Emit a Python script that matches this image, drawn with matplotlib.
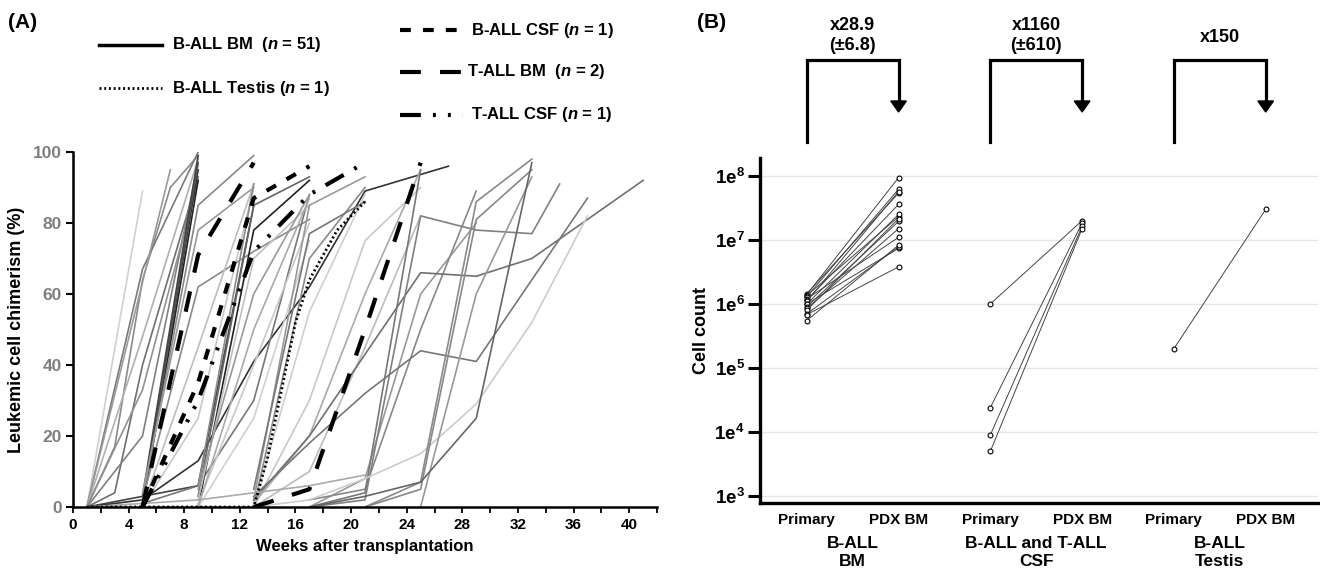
import math
import matplotlib
matplotlib.use('Agg')
import matplotlib.pyplot as plt
import matplotlib.transforms as mtransforms
from matplotlib.lines import Line2D
from matplotlib.patches import Polygon

plt.rcParams['font.family'] = ['Liberation Sans', 'DejaVu Sans']
plt.rcParams['font.weight'] = 'bold'
plt.rcParams['mathtext.fontset'] = 'custom'
plt.rcParams['mathtext.rm'] = 'Liberation Sans:bold'
plt.rcParams['mathtext.it'] = 'Liberation Sans:bold:italic'
plt.rcParams['mathtext.bf'] = 'Liberation Sans:bold'

# ---------------- data: panel A (chimerism %, by week) ----------------
bm_weeks = [
    [1, 5], [1, 3, 5, 7, 9], [1, 5, 9], [1, 7], [1, 3, 5, 9], [1, 5, 9], [1, 5, 9], [1, 5, 9],
    [1, 5, 9, 13], [1, 5, 9], [5, 9], [5, 9], [5, 9], [5, 9, 13], [5, 9, 13], [5, 9, 13, 17],
    [5, 9, 13], [5, 9, 13], [5, 9, 13, 17, 21, 27], [5, 9, 13, 17], [9, 13, 17], [9, 13, 17],
    [9, 13, 17], [9, 13, 17], [9, 13, 17], [9, 13, 17], [9, 13], [9, 13, 17], [13, 17, 21],
    [13, 17, 21], [13, 17, 21], [13, 17, 21], [13, 17, 21, 25], [13, 17, 21, 25], [13, 17, 21, 25],
    [17, 21, 25, 29], [17, 21, 25, 29], [17, 21, 25], [13, 17, 21, 25, 29, 33, 41],
    [17, 21, 25, 29, 33, 35], [13, 17, 21, 25, 29, 33, 37], [13, 17, 21, 25, 29, 33, 37],
    [21, 25, 29, 33], [21, 25, 29, 33], [25, 29, 33], [1, 5, 9, 13, 17, 21], [17, 21, 25, 29, 33],
]
bm_values = [
    [0, 89], [0, 17, 64, 90, 99], [0, 67, 100], [0, 95], [0, 4, 40, 93], [0, 20, 97], [0, 48, 98], [0, 33, 92],
    [0, 3, 6, 85], [0, 2, 95], [0, 92], [1, 97], [3, 99], [2, 85, 99], [4, 78, 90], [2, 62, 72, 81],
    [0, 25, 90], [0, 45, 91], [2, 13, 41, 62, 89, 96], [1, 6, 30, 88], [0, 78, 92], [3, 85, 93],
    [2, 70, 85], [5, 60, 88], [1, 40, 80], [0, 25, 75], [6, 91], [0, 50, 87], [0, 70, 90],
    [2, 85, 93], [0, 55, 88], [5, 77, 86], [0, 30, 75, 90], [1, 20, 60, 95], [0, 10, 45, 82],
    [0, 8, 60, 80], [2, 5, 50, 89], [0, 4, 95], [2, 20, 43, 66, 65, 70, 92],
    [0, 2, 82, 78, 77, 91], [3, 18, 32, 44, 41, 64, 87], [0, 2, 8, 15, 29, 52, 82],
    [0, 7, 86, 98], [0, 5, 81, 95], [0, 60, 93], [0, 1, 2, 4, 6, 9], [0, 3, 7, 25, 97],
]
bm_shades = [
    '#d0d0d0', '#8a8a8a', '#7a7a7a', '#9a9a9a', '#6e6e6e', '#808080', '#b0b0b0', '#909090',
    '#444444', '#333333', '#222222', '#555555', '#444444', '#888888', '#999999', '#8a8a8a',
    '#c8c8c8', '#bdbdbd', '#333333', '#777777', '#222222', '#666666',
    '#c0c0c0', '#999999', '#c8c8c8', '#d0d0d0', '#8a8a8a', '#aaaaaa', '#8a8a8a',
    '#999999', '#cfcfcf', '#777777', '#c8c8c8', '#aaaaaa', '#bbbbbb',
    '#999999', '#888888', '#777777', '#707070',
    '#808080', '#777777', '#cccccc',
    '#8a8a8a', '#888888', '#999999', '#aaaaaa', '#666666',
]

csf_b_weeks = [5, 9, 13, 17]
csf_b_values = [0, 35, 87, 96]
testis_weeks = [1, 5, 9, 13, 14, 15, 16, 17, 19, 21]
testis_values = [0, 0, 0, 0, 14, 33, 52, 64, 78, 86]
tall_bm1_weeks = [5, 9, 13]
tall_bm1_values = [0, 71, 97]
tall_bm2_weeks = [13, 17, 21, 25]
tall_bm2_values = [0, 5, 50, 97]
tall_csf_weeks = [5, 9, 13, 17, 21]
tall_csf_values = [0, 30, 72, 88, 97]

week_ticks = list(range(0, 41, 4))

# ---------------- data: panel B (cell counts) ----------------
bm_primary = [1.45e6, 1.4e6, 1.35e6, 1.3e6, 1.2e6, 1.15e6, 1.1e6, 1.0e6, 1.0e6, 9e5, 8.5e5, 8e5, 7e5, 6.8e5, 5.5e5]
bm_pdx = [5.4e7, 9.4e7, 2.3e7, 6.2e7, 1.1e7, 3.6e7, 5.7e7, 7.4e6, 2.5e7, 1.95e7, 1.5e7, 2.15e7, 7.8e6, 3.8e6, 8.3e6]
csf_primary = [1.0e6, 2.4e4, 9e3, 5e3]
csf_pdx = [2.0e7, 1.84e7, 1.63e7, 1.5e7]
testis_primary = [2e5]
testis_pdx = [3e7]
sample_labels = ['Primary', 'PDX BM', 'Primary', 'PDX BM', 'Primary', 'PDX BM']
group_labels = [('B-ALL', 'BM'), ('B-ALL and T-ALL', 'CSF'), ('B-ALL', 'Testis')]
fold_labels = [('x28.9', '(\u00b16.8)'), ('x1160', '(\u00b1610)'), ('x150', None)]
count_ticks = [1e3, 1e4, 1e5, 1e6, 1e7, 1e8]

W, H = 1320, 570
fig = plt.figure(figsize=(W / 100, H / 100), dpi=100)


def fx(px):
    return px / W


def fy(py):
    return 1 - py / H


# ================= panel A =================
ax_a = fig.add_axes([fx(73), fy(507), fx(657) - fx(73), fy(152) - fy(507)])
for w, v, c in zip(bm_weeks, bm_values, bm_shades):
    ax_a.plot(w, v, color=c, lw=1.2)

ax_a.plot(tall_bm1_weeks, tall_bm1_values, color='black', lw=3, dashes=(5.0, 4.6))
ax_a.plot(tall_bm2_weeks, tall_bm2_values, color='black', lw=3, dashes=(5.0, 4.6))
ax_a.plot(csf_b_weeks, csf_b_values, color='black', lw=3, dashes=(2.6, 2.9))
ax_a.plot(tall_csf_weeks, tall_csf_values, color='black', lw=3, dashes=(5.0, 2.9, 0.7, 2.9, 0.7, 2.9))
ax_a.plot(testis_weeks, testis_values, color='black', lw=2, dashes=(0.7, 1.0))

ax_a.set_xlim(0, 42)
ax_a.set_ylim(0, 100)
ax_a.set_xticks(week_ticks)
ax_a.set_xticks([t + 2 for t in week_ticks], minor=True)
ax_a.set_yticks(range(0, 101, 20))
ax_a.spines[['top', 'right']].set_visible(False)
ax_a.spines['left'].set_linewidth(1.8)
ax_a.spines['bottom'].set_linewidth(1.8)
ax_a.tick_params(axis='x', which='both', length=4, width=1.3, labelsize=11, pad=4)
ax_a.tick_params(axis='y', length=5, width=1.5, labelsize=12.5, labelcolor='#7f7f7f', pad=3)
ax_a.set_xlabel('Weeks after transplantation', fontsize=12, fontweight='bold', labelpad=5)
ax_a.set_ylabel('Leukemic cell chimerism (%)', fontsize=13, fontweight='bold', labelpad=6)

fig.text(fx(8), fy(22), '(A)', fontsize=15, fontweight='bold', va='center')

# legend drawn by hand
legend_items = [
    (99, 162, 45, 172, 'B-ALL BM  ($n$ = 51)', dict(lw=2.5)),
    (99, 162, 88, 172, 'B-ALL Testis ($n$ = 1)', dict(lw=2, dashes=(0.7, 1.0))),
    (400, 463, 30, 471, 'B-ALL CSF ($n$ = 1)', dict(lw=3, dashes=(2.6, 2.9))),
    (400, 463, 72, 467, 'T-ALL BM  ($n$ = 2)', dict(lw=3, dashes=(5.0, 4.6))),
    (400, 463, 115, 471, 'T-ALL CSF ($n$ = 1)', dict(lw=3, dashes=(5.0, 2.9, 0.7, 2.9, 0.7, 2.9))),
]
for x0, x1, y, xt, label, style in legend_items:
    fig.add_artist(Line2D([fx(x0), fx(x1)], [fy(y), fy(y)], color='black',
                          transform=fig.transFigure, **style))
    fig.text(fx(xt), fy(y), label, fontsize=12, fontweight='bold', va='center')

# ================= panel B =================
ax_b = fig.add_axes([fx(760), fy(503), fx(1318) - fx(760), fy(158) - fy(503)])
mk = dict(marker='o', ms=3.5, mfc='white', mec='black', mew=0.8, color='#444444', lw=0.7)
for p, q in zip(bm_primary, bm_pdx):
    ax_b.plot([0, 1], [p, q], **mk)
for p, q in zip(csf_primary, csf_pdx):
    ax_b.plot([2, 3], [p, q], **mk)
for p, q in zip(testis_primary, testis_pdx):
    ax_b.plot([4, 5], [p, q], **mk)

ax_b.set_yscale('log')
ax_b.set_ylim(10 ** 2.89, 10 ** 8.28)
ax_b.set_xlim(-0.51, 5.57)
ax_b.set_yticks(count_ticks)
ax_b.set_yticklabels([r'1e$^{%d}$' % round(math.log10(t)) for t in count_ticks])
ax_b.minorticks_off()
ax_b.yaxis.grid(True, color='#e6e6e6', lw=1)
ax_b.set_axisbelow(True)
ax_b.set_xticks(range(6))
ax_b.set_xticklabels(sample_labels)
ax_b.spines[['top', 'right']].set_visible(False)
ax_b.spines['left'].set_linewidth(2.4)
ax_b.spines['bottom'].set_linewidth(2.4)
ax_b.tick_params(axis='y', length=9, width=2.2, labelsize=13.5, pad=2)
ax_b.tick_params(axis='x', length=0, labelsize=11, pad=7)
ax_b.set_ylabel('Cell count', fontsize=13, fontweight='bold', labelpad=3)

fig.text(fx(697), fy(22), '(B)', fontsize=15, fontweight='bold', va='center')

trans = mtransforms.blended_transform_factory(ax_b.transData, fig.transFigure)
for i, (top, bottom) in enumerate(group_labels):
    xc = 2 * i + 0.5
    ax_b.text(xc, fy(543), top, transform=trans, ha='center', va='center', fontsize=12.5, fontweight='bold')
    ax_b.text(xc, fy(561), bottom, transform=trans, ha='center', va='center', fontsize=12.5, fontweight='bold')

for i, (fold, spread) in enumerate(fold_labels):
    x0, x1 = 2 * i, 2 * i + 1
    ax_b.plot([x0, x0, x1, x1], [fy(142), fy(60), fy(60), fy(103)], color='black', lw=2.3,
              transform=trans, clip_on=False, solid_joinstyle='miter')
    head = Polygon([[x1 - 0.085, fy(101)], [x1 + 0.085, fy(101)], [x1, fy(112)]], closed=True,
                   color='black', transform=trans, clip_on=False)
    ax_b.add_patch(head)
    if spread is None:
        ax_b.text(x0 + 0.5, fy(37), fold, transform=trans, ha='center', va='center', fontsize=13, fontweight='bold')
    else:
        ax_b.text(x0 + 0.5, fy(25), fold, transform=trans, ha='center', va='center', fontsize=13, fontweight='bold')
        ax_b.text(x0 + 0.5, fy(45), spread, transform=trans, ha='center', va='center', fontsize=13, fontweight='bold')

fig.savefig('out.png', dpi=100)
